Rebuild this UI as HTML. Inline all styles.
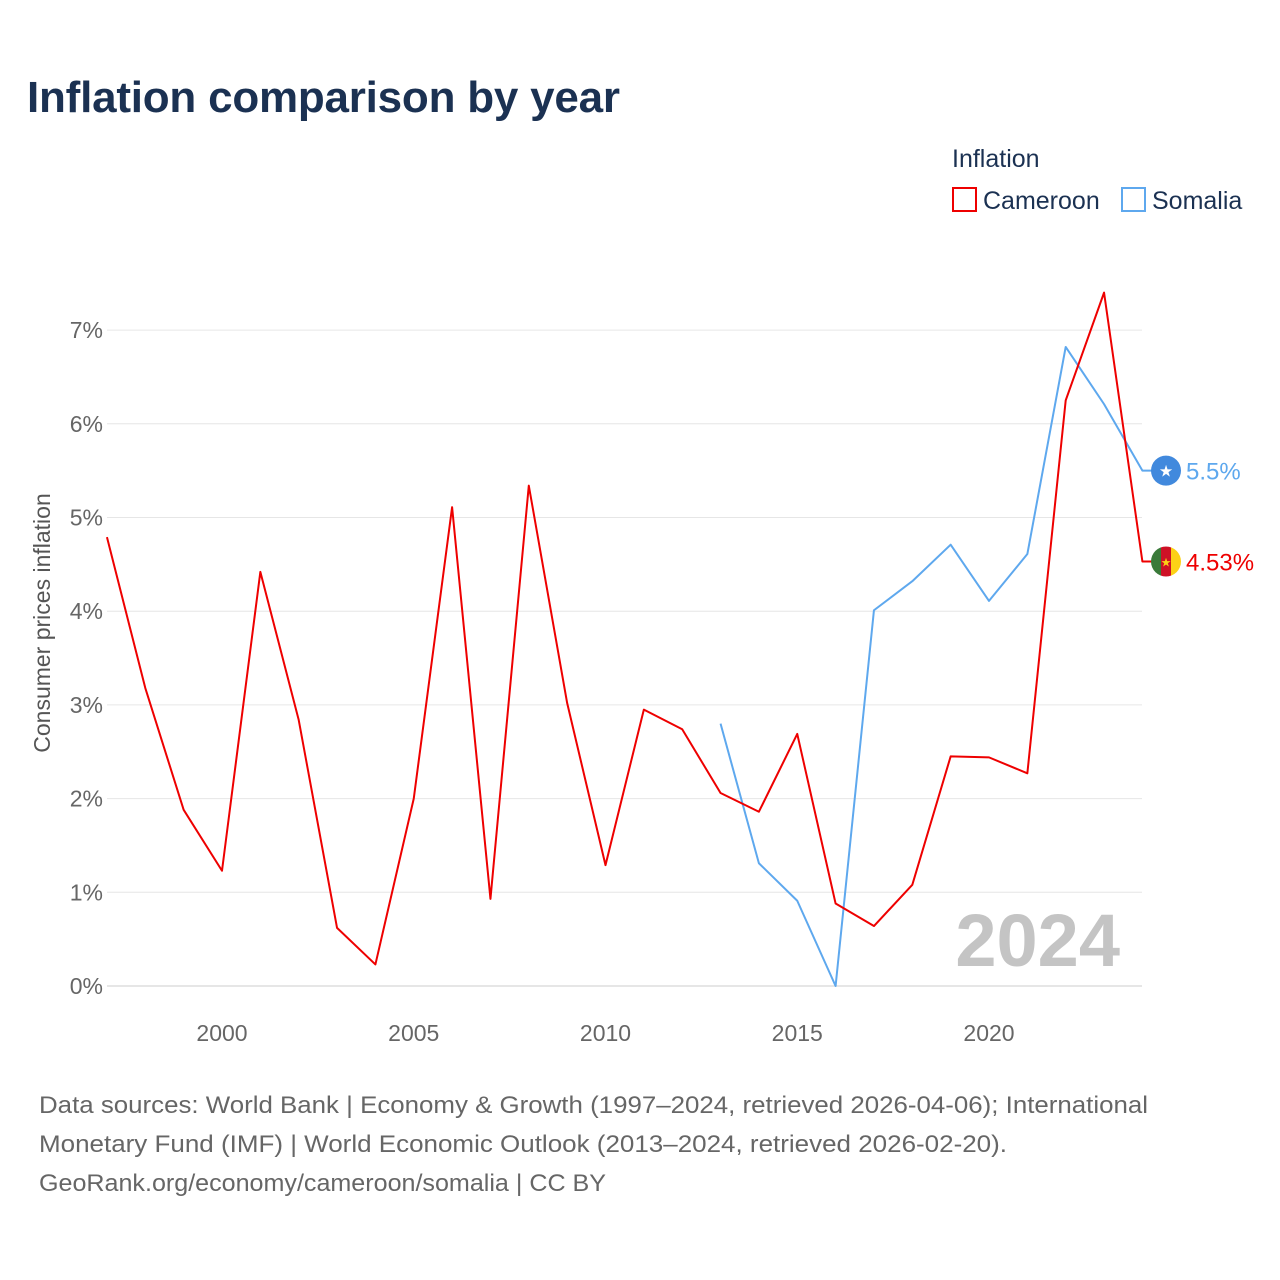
<!DOCTYPE html>
<html><head><meta charset="utf-8"><style>
body{margin:0;background:#fff;font-family:"Liberation Sans",sans-serif;}
#wrap{position:relative;width:1280px;height:1280px;overflow:hidden;}
</style></head><body>
<div id="wrap">
<svg id="svg" width="1280" height="1280">
<text x="27" y="112" font-size="44" font-weight="bold" fill="#1b3152" textLength="593">Inflation comparison by year</text>
<g>
<text x="952" y="167" font-size="25" fill="#1b3152">Inflation</text>
<g><rect x="953" y="188" width="23" height="23" fill="none" stroke="#ee0000" stroke-width="2"/><text x="983" y="209" font-size="25" fill="#1b3152">Cameroon</text></g>
<g><rect x="1122" y="188" width="23" height="23" fill="none" stroke="#5ea8ee" stroke-width="2"/><text x="1152" y="209" font-size="25" fill="#1b3152">Somalia</text></g>
</g>
<g id="grid"></g><g id="axes"></g><g id="series"></g>
<text x="1120" y="966" font-size="74" font-weight="bold" fill="#c4c4c4" text-anchor="end">2024</text>
<text transform="translate(50,623) rotate(-90)" font-size="23" fill="#555" text-anchor="middle">Consumer prices inflation</text>
<g font-size="24" fill="#666">
<text x="39" y="1113" textLength="1109" lengthAdjust="spacingAndGlyphs">Data sources: World Bank | Economy &amp; Growth (1997–2024, retrieved 2026-04-06); International</text>
<text x="39" y="1152" textLength="968" lengthAdjust="spacingAndGlyphs">Monetary Fund (IMF) | World Economic Outlook (2013–2024, retrieved 2026-02-20).</text>
<text x="39" y="1191" textLength="567" lengthAdjust="spacingAndGlyphs">GeoRank.org/economy/cameroon/somalia | CC BY</text>
</g>
</svg></div>
<script>
const years=[1997,1998,1999,2000,2001,2002,2003,2004,2005,2006,2007,2008,2009,2010,2011,2012,2013,2014,2015,2016,2017,2018,2019,2020,2021,2022,2023,2024];
const cameroon=[4.79,3.18,1.88,1.23,4.42,2.84,0.62,0.23,2.0,5.11,0.93,5.34,3.02,1.29,2.95,2.74,2.06,1.86,2.69,0.88,0.64,1.08,2.45,2.44,2.27,6.25,7.40,4.53];
const somaliaYears=[2013,2014,2015,2016,2017,2018,2019,2020,2021,2022,2023,2024];
const somalia=[2.8,1.31,0.91,0.0,4.01,4.32,4.71,4.11,4.61,6.82,6.21,5.5];
const yTicks=[0,1,2,3,4,5,6,7];
const xTicks=[2000,2005,2010,2015,2020];
const NS="http://www.w3.org/2000/svg";
const X=y=>222+(y-2000)*38.35;
const Y=v=>986-v*93.7;
function mk(t,a,p){const e=document.createElementNS(NS,t);for(const k in a)e.setAttribute(k,a[k]);p.appendChild(e);return e;}
const grid=document.getElementById('grid'),axes=document.getElementById('axes'),ser=document.getElementById('series');
yTicks.forEach(v=>{
const l=mk('line',{x1:107,x2:1142,y1:Y(v),y2:Y(v),stroke:v===0?'#ccc':'#e6e6e6','stroke-width':1},grid);


const t=mk('text',{x:103,y:Y(v)+8,'font-size':23,fill:'#666','text-anchor':'end'},axes);t.textContent=v+'%';


});
xTicks.forEach(v=>{
const t=mk('text',{x:X(v),y:1041,'font-size':23,fill:'#666','text-anchor':'middle'},axes);t.textContent=v;


});
function line(xs,vs,col,name){
const p=mk('polyline',{points:xs.map((y,i)=>X(y)+','+Y(vs[i])).join(' ')+' '+(X(2024)+10)+','+Y(vs[vs.length-1]),fill:'none',stroke:col,'stroke-width':2,'stroke-linejoin':'round'},ser);


}
line(somaliaYears,somalia,'#5ea8ee','somalia');
line(years,cameroon,'#ee0000','cameroon');
const sv=somalia[somalia.length-1],cv=cameroon[cameroon.length-1];
const sm=mk('g',{},ser);


mk('circle',{cx:1166,cy:Y(sv),r:15,fill:'#4189dd'},sm);
const st=mk('text',{x:1166,y:Y(sv)+6,'font-size':16,fill:'#fff','text-anchor':'middle'},sm);st.textContent='★';
const sl=mk('text',{x:1186,y:Y(sv)+9,'font-size':24,fill:'#5ea8ee'},ser);sl.textContent=sv+'%';


const cm=mk('g',{},ser);


const cy=Y(cv);
mk('clipPath',{id:'cc'},cm);mk('circle',{cx:1166,cy:cy,r:15},document.getElementById('cc'));
const cg=mk('g',{'clip-path':'url(#cc)'},cm);
mk('rect',{x:1151,y:cy-15,width:10,height:30,fill:'#3a7a3a'},cg);
mk('rect',{x:1161,y:cy-15,width:10,height:30,fill:'#ce1126'},cg);
mk('rect',{x:1171,y:cy-15,width:10,height:30,fill:'#fcd116'},cg);
const ct=mk('text',{x:1166,y:cy+5,'font-size':12,fill:'#fcd116','text-anchor':'middle'},cm);ct.textContent='★';
const cl=mk('text',{x:1186,y:cy+9,'font-size':24,fill:'#ee0000'},ser);cl.textContent=cv+'%';


</script>
</body></html>
